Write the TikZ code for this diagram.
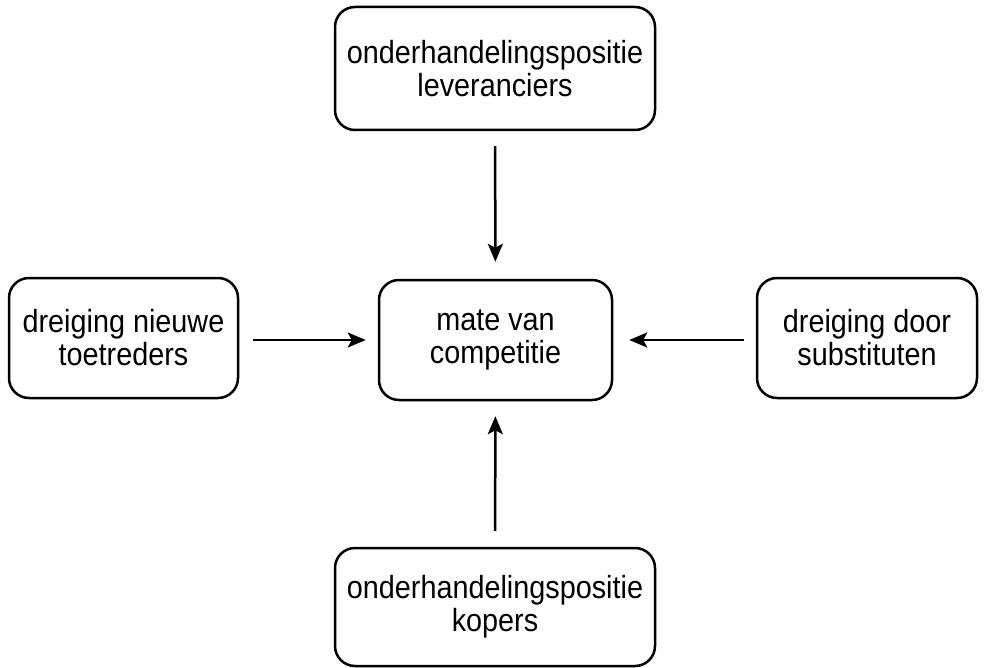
\documentclass[tikz,border=0pt]{standalone}
\usepackage{fontspec}
\setmainfont{Liberation Sans}
\usepackage{graphicx}
\usepackage{tikz}
\usetikzlibrary{arrows.meta,positioning}

\newcommand{\tallline}[1]{\scalebox{0.9}[1]{#1}}

\begin{document}
\begin{tikzpicture}[x=1pt,y=-1pt,
  force/.style={draw,line width=2.5pt,rounded corners=20pt,align=center,
    inner sep=0pt,font=\fontsize{32}{33}\selectfont},
  push/.style={line width=2.5pt,-{Stealth[length=18pt,width=15pt,inset=4pt]}}]
\useasboundingbox (0,0) rectangle (984,668);
\node[force,minimum width=320pt,minimum height=123pt] (leveranciers) at (495,68.5)
  {\tallline{onderhandelingspositie}\\\tallline{leveranciers}};
%%%%%%%%%%%%%%%%
\node[force,minimum width=233pt,minimum height=120pt] (competitie) at (495.5,340)
  {\tallline{mate van}\\\tallline{competitie}};
%%%%%%%%%%%%%%%%
\node[force,minimum width=229pt,minimum height=120pt] (toetreders) at (123.5,338)
  {\tallline{dreiging nieuwe}\\\tallline{toetreders}};
%%%%%%%%%%%%%%%%
\node[force,minimum width=220pt,minimum height=120pt] (substituten) at (867,338)
  {\tallline{dreiging door}\\\tallline{substituten}};
%%%%%%%%%%%%%%%%
\node[force,minimum width=320pt,minimum height=118pt] (kopers) at (495,607)
  {\tallline{onderhandelingspositie}\\\tallline{kopers}};
%%%%%%%%%%%%%%%%
\draw[push,shorten <=15pt,shorten >=17pt] (leveranciers) -- (competitie);
\draw[push,shorten <=14pt,shorten >=12pt] (toetreders.east |- competitie) -- (competitie.west);
\draw[push,shorten <=12pt,shorten >=16pt] (substituten.west |- competitie) -- (competitie.east);
\draw[push,shorten <=16pt,shorten >=15pt] (kopers) -- (competitie);
\end{tikzpicture}
\end{document}
